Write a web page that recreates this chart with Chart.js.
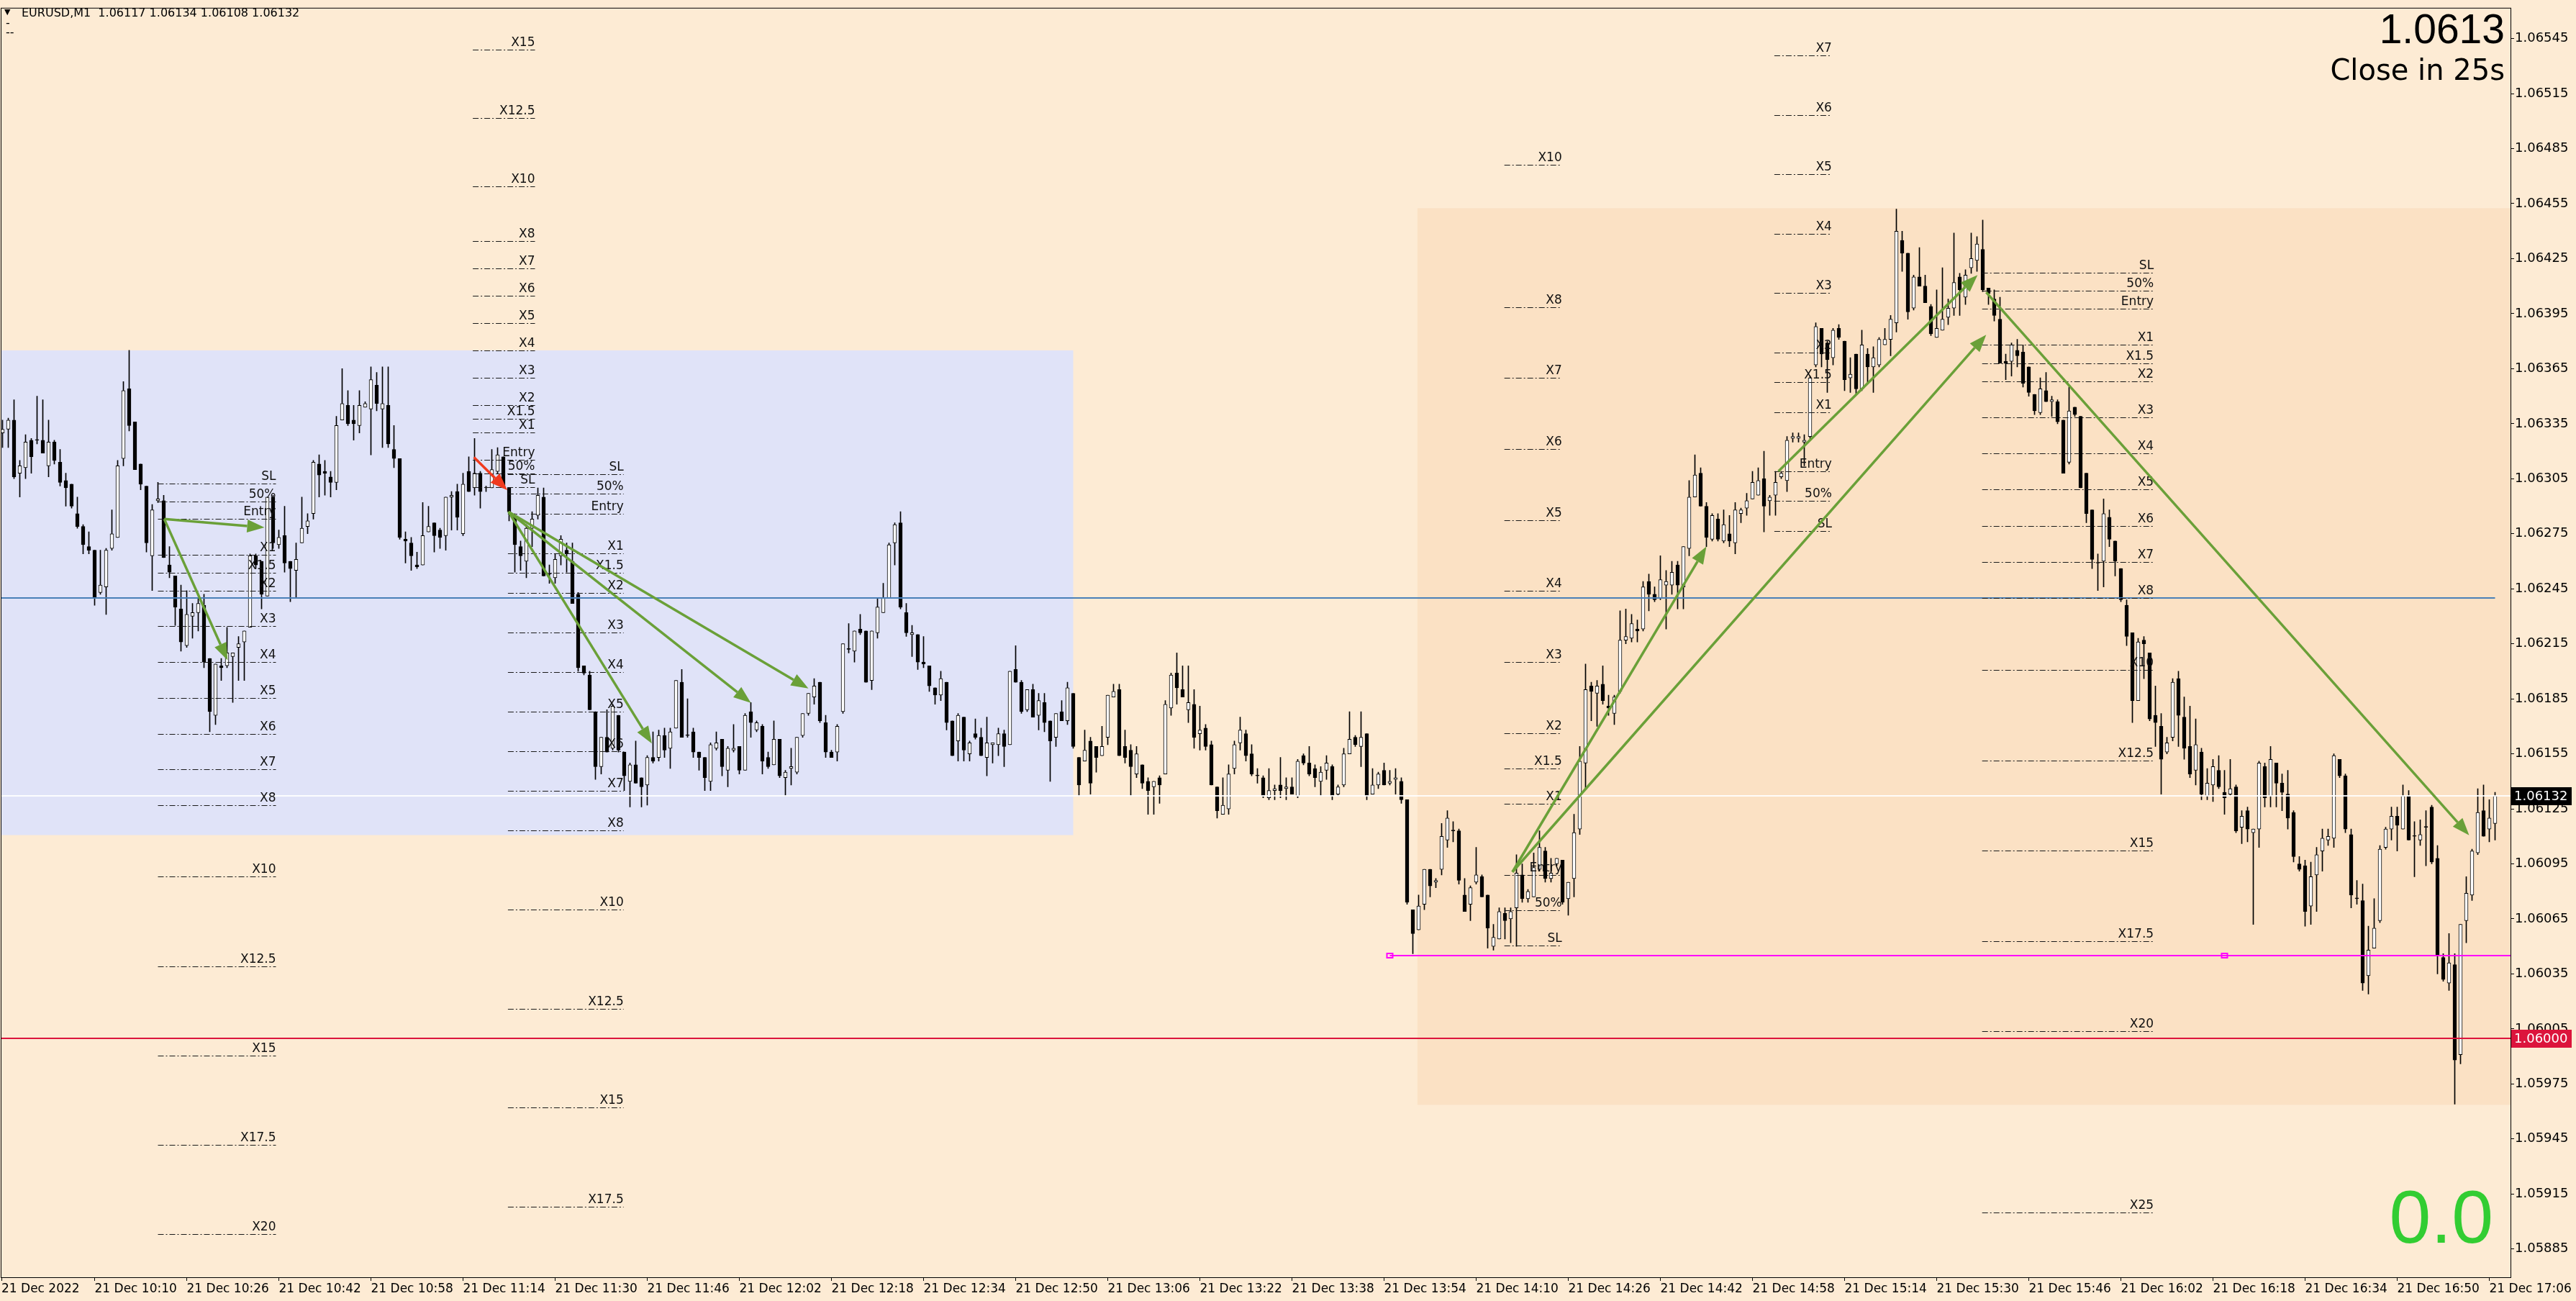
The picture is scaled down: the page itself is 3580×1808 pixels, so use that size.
<!DOCTYPE html>
<html>
<head>
<meta charset="utf-8">
<title>EURUSD,M1</title>
<script src="https://cdn.jsdelivr.net/npm/chart.js@4.4.1/dist/chart.umd.min.js"></script>
<style>
  html, body { margin: 0; padding: 0; background: #FDEBD4; overflow: hidden; }
  canvas { display: block; }
</style>
</head>
<body>
<canvas id="priceChart" width="3580" height="1808"></canvas>
<script>
// EURUSD M1, 21 Dec 2022 - one candle per minute from 09:54 to 17:07
// prices are kept in points (0.00001) above 1.00000
const openPts = [
  6330,6332,6337,6308,6311,6326,6326,6326,6312,6325,
  6314,6304,6302,6286,6279,6268,6266,6243,6246,6267,
  6273,6316,6354,6336,6313,6301,6263,6293,6293,6258,
  6252,6234,6214,6230,6232,6236,6207,6176,6203,6203,
  6208,6213,6216,6224,6263,6260,6241,6295,6269,6274,
  6260,6255,6270,6279,6286,6313,6309,6306,6303,6337,
  6345,6337,6334,6344,6343,6356,6343,6345,6321,6316,
  6272,6270,6258,6258,6276,6281,6277,6274,6295,6298,
  6275,6309,6300,6308,6300,6300,6309,6317,6300,6285,
  6268,6260,6278,6285,6295,6253,6251,6263,6266,6260,
  6242,6203,6198,6178,6148,6164,6158,6176,6156,6140,
  6149,6142,6138,6153,6153,6165,6158,6169,6194,6165,
  6167,6156,6153,6140,6158,6163,6146,6157,6159,6146,
  6178,6168,6170,6153,6149,6163,6142,6147,6145,6165,
  6177,6186,6194,6172,6156,6156,6178,6212,6211,6223,
  6222,6195,6221,6232,6240,6270,6281,6232,6220,6220,
  6205,6203,6191,6187,6194,6173,6162,6175,6155,6166,
  6164,6153,6160,6160,6166,6160,6201,6194,6179,6190,
  6176,6183,6173,6164,6178,6173,6188,6153,6151,6162,
  6159,6154,6164,6186,6190,6159,6157,6144,6149,6140,
  6137,6142,6144,6180,6199,6190,6179,6182,6166,6169,
  6160,6137,6122,6125,6147,6161,6166,6155,6143,6142,
  6131,6135,6138,6136,6137,6132,6154,6150,6147,6140,
  6146,6148,6133,6138,6155,6164,6159,6166,6133,6138,
  6146,6139,6141,6140,6130,6070,6059,6073,6092,6085,
  6092,6108,6113,6113,6078,6073,6085,6088,6078,6050,
  6054,6068,6065,6071,6089,6076,6077,6092,6102,6087,
  6095,6097,6076,6087,6114,6150,6192,6188,6193,6181,
  6177,6189,6217,6218,6223,6223,6249,6242,6240,6247,
  6247,6258,6246,6267,6295,6308,6290,6272,6283,6271,
  6275,6270,6286,6289,6294,6296,6305,6293,6296,6306,
  6304,6327,6327,6325,6328,6367,6387,6379,6371,6387,
  6380,6360,6373,6354,6373,6366,6367,6378,6381,6390,
  6435,6428,6398,6415,6410,6399,6382,6386,6393,6398,
  6415,6404,6420,6424,6430,6409,6403,6392,6369,6369,
  6375,6374,6366,6351,6341,6353,6347,6347,6337,6314,
  6344,6339,6308,6288,6259,6260,6284,6271,6256,6236,
  6221,6184,6217,6210,6176,6170,6156,6164,6196,6175,
  6159,6146,6156,6132,6138,6146,6134,6133,6137,6115,
  6124,6112,6114,6148,6132,6150,6139,6133,6123,6095,
  6094,6072,6089,6102,6108,6109,6152,6143,6111,6076,
  6075,6034,6049,6064,6104,6114,6121,6114,6132,6110,
  6108,6115,6126,6098,6044,6030,6040,5991,6064,6078,
  6101,6124,6114,6117
];
const highPts = [
  6337,6338,6348,6315,6329,6327,6350,6348,6337,6326,
  6321,6308,6302,6295,6280,6276,6266,6266,6267,6288,
  6315,6358,6375,6336,6313,6301,6291,6303,6296,6268,
  6252,6247,6244,6237,6240,6242,6207,6204,6207,6224,
  6210,6219,6222,6264,6264,6260,6295,6296,6277,6290,
  6260,6270,6295,6286,6315,6318,6315,6309,6339,6365,
  6353,6345,6353,6347,6366,6363,6366,6366,6334,6316,
  6276,6273,6265,6292,6290,6281,6278,6295,6298,6302,
  6308,6317,6327,6309,6301,6321,6322,6317,6300,6286,
  6271,6280,6287,6300,6300,6258,6264,6274,6270,6270,
  6243,6203,6200,6178,6164,6179,6182,6176,6156,6150,
  6162,6142,6154,6167,6168,6169,6169,6195,6201,6185,
  6169,6156,6153,6161,6167,6163,6159,6171,6159,6177,
  6183,6173,6171,6156,6173,6163,6146,6158,6164,6177,
  6188,6196,6194,6176,6157,6171,6215,6226,6222,6231,
  6222,6222,6240,6248,6270,6281,6287,6237,6225,6220,
  6219,6203,6191,6200,6194,6173,6177,6175,6162,6174,
  6169,6175,6161,6169,6168,6200,6214,6195,6190,6193,
  6188,6188,6173,6177,6184,6194,6188,6153,6168,6164,
  6159,6170,6187,6193,6193,6168,6160,6159,6149,6142,
  6140,6143,6184,6199,6210,6203,6203,6190,6181,6171,
  6162,6137,6142,6149,6162,6175,6168,6160,6147,6143,
  6147,6138,6153,6142,6142,6152,6155,6159,6149,6148,
  6154,6149,6138,6158,6178,6165,6178,6166,6147,6145,
  6150,6146,6147,6142,6130,6070,6078,6092,6092,6087,
  6117,6124,6118,6114,6087,6083,6104,6089,6078,6062,
  6071,6071,6071,6100,6095,6081,6101,6113,6104,6098,
  6098,6097,6085,6122,6159,6204,6194,6195,6203,6187,
  6187,6233,6234,6231,6228,6249,6253,6246,6263,6255,
  6260,6260,6268,6304,6318,6311,6292,6286,6286,6288,
  6285,6292,6289,6297,6309,6311,6320,6296,6309,6309,
  6328,6330,6330,6329,6361,6390,6387,6380,6387,6389,
  6380,6371,6373,6386,6376,6377,6382,6387,6394,6452,
  6440,6428,6416,6431,6416,6400,6408,6420,6403,6439,
  6417,6419,6439,6437,6446,6409,6408,6404,6373,6379,
  6381,6378,6366,6351,6360,6363,6350,6348,6337,6355,
  6344,6339,6308,6288,6264,6294,6288,6271,6256,6239,
  6221,6218,6219,6210,6192,6177,6164,6196,6200,6186,
  6181,6174,6158,6147,6152,6154,6146,6152,6138,6124,
  6126,6114,6151,6150,6159,6150,6144,6146,6124,6099,
  6097,6096,6104,6114,6114,6155,6152,6144,6114,6086,
  6084,6061,6076,6105,6115,6126,6126,6138,6135,6118,
  6119,6124,6127,6105,6046,6057,6046,6062,6088,6103,
  6136,6138,6130,6134
];
const lowPts = [
  6322,6322,6305,6295,6305,6308,6324,6319,6306,6313,
  6301,6290,6289,6278,6264,6264,6236,6242,6231,6266,
  6273,6312,6331,6310,6299,6265,6244,6292,6262,6251,
  6225,6211,6213,6218,6222,6202,6167,6171,6195,6202,
  6183,6195,6195,6224,6256,6234,6241,6267,6267,6254,
  6238,6240,6270,6275,6283,6295,6296,6295,6299,6337,
  6334,6326,6330,6344,6318,6342,6322,6322,6311,6272,
  6259,6255,6256,6258,6276,6265,6267,6266,6277,6277,
  6274,6298,6296,6289,6298,6300,6308,6300,6282,6254,
  6255,6251,6268,6283,6252,6248,6248,6258,6254,6237,
  6200,6198,6179,6141,6144,6156,6157,6156,6135,6126,
  6139,6126,6127,6150,6151,6153,6147,6169,6164,6164,
  6153,6146,6135,6135,6157,6143,6137,6156,6144,6146,
  6164,6167,6144,6147,6149,6142,6132,6138,6144,6164,
  6176,6182,6172,6153,6153,6151,6177,6210,6205,6220,
  6194,6190,6218,6232,6240,6258,6234,6219,6208,6201,
  6202,6189,6182,6184,6168,6154,6151,6151,6151,6163,
  6154,6143,6150,6154,6148,6160,6194,6177,6178,6175,
  6168,6167,6140,6159,6173,6171,6158,6132,6151,6133,
  6145,6154,6160,6186,6154,6150,6132,6142,6136,6122,
  6122,6128,6144,6176,6182,6186,6172,6158,6157,6157,
  6138,6120,6122,6122,6144,6157,6151,6143,6139,6131,
  6130,6130,6131,6130,6133,6131,6149,6143,6137,6132,
  6141,6130,6132,6137,6155,6159,6148,6130,6133,6136,
  6138,6138,6133,6128,6073,6046,6059,6070,6077,6082,
  6089,6104,6107,6084,6069,6064,6084,6077,6049,6048,
  6054,6054,6052,6050,6074,6074,6077,6091,6085,6085,
  6094,6073,6067,6077,6111,6136,6173,6170,6182,6176,
  6171,6188,6215,6216,6216,6222,6233,6238,6239,6223,
  6242,6234,6234,6263,6295,6290,6268,6271,6271,6270,
  6268,6264,6281,6285,6294,6296,6276,6285,6285,6305,
  6298,6325,6325,6312,6327,6366,6366,6352,6367,6381,
  6353,6352,6351,6353,6357,6352,6366,6378,6372,6385,
  6418,6392,6397,6410,6401,6383,6382,6386,6389,6394,
  6394,6400,6417,6418,6407,6400,6391,6368,6359,6361,
  6366,6355,6350,6340,6340,6347,6339,6335,6308,6313,
  6339,6300,6281,6256,6244,6246,6268,6252,6238,6214,
  6172,6184,6196,6173,6159,6133,6155,6162,6159,6152,
  6142,6138,6130,6130,6129,6136,6122,6132,6112,6106,
  6107,6062,6104,6126,6126,6126,6124,6114,6096,6091,
  6061,6062,6069,6091,6105,6104,6142,6112,6071,6073,
  6026,6024,6049,6063,6103,6108,6102,6114,6108,6088,
  6105,6094,6095,6035,6031,6026,5964,5986,6052,6075,
  6100,6110,6107,6108
];
const closePts = [
  6332,6337,6306,6312,6325,6317,6326,6319,6325,6315,
  6303,6300,6290,6279,6269,6266,6240,6247,6266,6275,
  6312,6353,6334,6310,6302,6270,6288,6294,6262,6254,
  6235,6216,6231,6232,6237,6205,6178,6204,6202,6210,
  6210,6215,6222,6263,6258,6242,6295,6270,6273,6259,
  6256,6261,6278,6282,6314,6307,6308,6303,6334,6346,
  6335,6335,6345,6346,6359,6346,6346,6324,6316,6273,
  6271,6263,6257,6274,6279,6274,6273,6295,6296,6284,
  6302,6298,6308,6298,6300,6310,6318,6300,6287,6269,
  6263,6278,6283,6296,6252,6253,6261,6272,6264,6237,
  6202,6199,6179,6148,6164,6156,6181,6157,6143,6149,
  6139,6137,6153,6151,6165,6157,6167,6195,6164,6165,
  6156,6153,6142,6160,6161,6148,6158,6158,6146,6176,
  6172,6172,6151,6148,6163,6143,6145,6148,6164,6177,
  6188,6192,6173,6156,6153,6170,6215,6212,6222,6221,
  6194,6222,6235,6240,6269,6280,6235,6221,6221,6205,
  6204,6192,6187,6196,6172,6154,6176,6157,6161,6164,
  6154,6161,6161,6166,6159,6200,6194,6178,6190,6175,
  6184,6172,6162,6177,6173,6191,6159,6138,6157,6139,
  6153,6159,6187,6189,6154,6153,6148,6155,6139,6135,
  6140,6138,6182,6198,6191,6186,6183,6164,6168,6159,
  6138,6124,6127,6144,6160,6168,6154,6144,6143,6132,
  6135,6136,6135,6137,6133,6151,6150,6144,6142,6145,
  6150,6132,6137,6155,6163,6160,6164,6132,6138,6144,
  6138,6140,6142,6130,6074,6057,6072,6092,6083,6086,
  6110,6120,6113,6086,6069,6082,6089,6077,6060,6055,
  6069,6064,6069,6090,6076,6080,6093,6104,6087,6090,
  6098,6074,6085,6112,6151,6190,6189,6192,6184,6180,
  6186,6217,6219,6226,6222,6246,6242,6239,6250,6249,
  6254,6247,6268,6295,6307,6290,6273,6285,6272,6280,
  6271,6288,6288,6293,6303,6304,6290,6295,6303,6308,
  6326,6328,6328,6326,6360,6388,6373,6370,6386,6382,
  6359,6362,6354,6378,6366,6371,6381,6381,6392,6440,
  6428,6396,6415,6410,6401,6384,6387,6392,6398,6412,
  6408,6416,6425,6433,6408,6406,6394,6368,6368,6378,
  6372,6357,6352,6342,6354,6347,6348,6336,6308,6342,
  6340,6300,6286,6261,6259,6286,6272,6260,6239,6219,
  6184,6216,6215,6174,6172,6152,6161,6194,6176,6158,
  6144,6160,6133,6139,6148,6137,6131,6136,6113,6121,
  6114,6114,6150,6131,6152,6139,6134,6120,6099,6092,
  6069,6088,6100,6109,6110,6154,6143,6114,6078,6076,
  6030,6048,6060,6103,6114,6121,6116,6132,6108,6110,
  6111,6115,6096,6045,6032,6041,5988,6062,6079,6102,
  6123,6110,6120,6132
];

// time axis: label text and the candle index it sits on (the first one is the left edge)
const xTickLabels = ['21 Dec 2022', '21 Dec 10:10', '21 Dec 10:26', '21 Dec 10:42', '21 Dec 10:58',
  '21 Dec 11:14', '21 Dec 11:30', '21 Dec 11:46', '21 Dec 12:02', '21 Dec 12:18', '21 Dec 12:34',
  '21 Dec 12:50', '21 Dec 13:06', '21 Dec 13:22', '21 Dec 13:38', '21 Dec 13:54', '21 Dec 14:10',
  '21 Dec 14:26', '21 Dec 14:42', '21 Dec 14:58', '21 Dec 15:14', '21 Dec 15:30', '21 Dec 15:46',
  '21 Dec 16:02', '21 Dec 16:18', '21 Dec 16:34', '21 Dec 16:50', '21 Dec 17:06'];
const xTickIndex = [-0.1875, 16, 32, 48, 64, 80, 96, 112, 128, 144, 160, 176, 192, 208, 224,
  240, 256, 272, 288, 304, 320, 336, 352, 368, 384, 400, 416, 432];

// price axis ticks (points)
const yTickValues = [5885, 5915, 5945, 5975, 6005, 6035, 6065, 6095, 6125, 6155, 6185, 6215,
  6245, 6275, 6305, 6335, 6365, 6395, 6425, 6455, 6485, 6515, 6545];

// visible window
const xMin = -0.1875, xMax = 435.6875;
const yMin = 5869.6, yMax = 6561.4;

// horizontal levels (points)
const bidLevel = 6132;
const blueLevel = 6240;
const redLevel = 6000;
const magentaLevel = 6045;
const magentaAnchors = [241, 386];

// shaded zones: first candle, last candle, low, high
const lavenderZone = [-1, 186, 6110.7, 6375];
const orangeZone = [245.8, 440, 5963.6, 6452.5];

// target ladders (risk multiples)
const fibLabels = ['SL', '50%', 'Entry', 'X1', 'X1.5', 'X2', 'X3', 'X4', 'X5', 'X6', 'X7', 'X8',
  'X10', 'X12.5', 'X15', 'X17.5', 'X20', 'X25'];
const fibMult = [-1, -0.5, 0, 1, 1.5, 2, 3, 4, 5, 6, 7, 8, 10, 12.5, 15, 17.5, 20, 25];
const ladderStart = [27, 81.7, 87.8, 260.9, 307.8, 343.9];
const ladderEnd = [47.5, 92.5, 107.9, 270.9, 317.8, 373.7];
const ladderEntry = [6283, 6315.5, 6286, 6089, 6309, 6397.6];
const ladderRisk = [19.5, 14.9, 21.6, 38.7, 32.4, 19.7];
const ladderDir = [-1, 1, -1, 1, 1, -1];
const ladderLevels = [17, 15, 16, 13, 11, 18];

// arrows: [candle, price] from -> to
const arrowFrom = [[28.1, 6283], [28.1, 6283], [87.9, 6287], [87.9, 6287], [87.9, 6287],
  [262.3, 6090.6], [262.3, 6090.6], [308.5, 6309], [344.6, 6406.7], [81.9, 6316.7]];
const arrowTo = [[45.5, 6278.4], [39.1, 6206], [112.8, 6160.6], [130, 6182.8], [140, 6190.6],
  [296, 6268], [344.6, 6383.5], [343.1, 6416.1], [428.5, 6110.6], [87.7, 6298.7]];
const arrowIsRed = [false, false, false, false, false, false, false, false, false, true];

const BG = '#FDEBD4';
const GREEN = '#6AA038';
const fmt5 = v => (1 + v / 100000).toFixed(5);
const last = closePts.length - 1;

function drawArrow(ctx, x0, y0, x1, y1, color) {
    const ang = Math.atan2(y1 - y0, x1 - x0);
    const len = 24, half = 9;
    const bx = x1 - len * Math.cos(ang), by = y1 - len * Math.sin(ang);
    ctx.strokeStyle = color;
    ctx.lineWidth = 3.5;
    ctx.beginPath();
    ctx.moveTo(x0, y0);
    ctx.lineTo(bx, by);
    ctx.stroke();
    ctx.fillStyle = color;
    ctx.beginPath();
    ctx.moveTo(x1, y1);
    ctx.lineTo(bx - half * Math.sin(ang), by + half * Math.cos(ang));
    ctx.lineTo(bx + half * Math.sin(ang), by - half * Math.cos(ang));
    ctx.closePath();
    ctx.fill();
}

// background and shaded zones
const backdrop = {
    id: 'backdrop',
    beforeDraw(chart) {
        const { ctx, chartArea: a, scales: { x, y } } = chart;
        ctx.save();
        ctx.fillStyle = BG;
        ctx.fillRect(0, 0, chart.width, chart.height);
        ctx.beginPath();
        ctx.rect(a.left, a.top, a.right - a.left, a.bottom - a.top);
        ctx.clip();
        [[lavenderZone, '#E0E3F8'], [orangeZone, '#FBE1C4']].forEach(([z, col]) => {
            const left = x.getPixelForValue(z[0]), right = x.getPixelForValue(z[1]);
            const top = y.getPixelForValue(z[3]), bottom = y.getPixelForValue(z[2]);
            ctx.fillStyle = col;
            ctx.fillRect(left, top, right - left, bottom - top);
        });
        ctx.restore();
    }
};

// levels, ladders and arrows on top of the candles
const overlays = {
    id: 'overlays',
    afterDatasetsDraw(chart) {
        const { ctx, chartArea: a, scales: { x, y } } = chart;
        ctx.save();
        ctx.beginPath();
        ctx.rect(a.left, a.top, a.right - a.left, a.bottom - a.top);
        ctx.clip();

        const hline = (v, x0, x1, color, w) => {
            const yy = Math.round(y.getPixelForValue(v));
            ctx.strokeStyle = color;
            ctx.lineWidth = w;
            ctx.beginPath();
            ctx.moveTo(x0, yy);
            ctx.lineTo(x1, yy);
            ctx.stroke();
        };
        hline(bidLevel, a.left, a.right, 'rgba(255,255,255,0.9)', 2);
        hline(blueLevel, a.left, x.getPixelForValue(last), '#4A80B8', 2);
        hline(redLevel, a.left, a.right, '#DC143C', 2);
        hline(magentaLevel, x.getPixelForValue(magentaAnchors[0]), a.right, '#FF00FF', 2);
        ctx.strokeStyle = '#FF00FF';
        ctx.lineWidth = 2;
        magentaAnchors.forEach(i => {
            const cx = x.getPixelForValue(i), cy = Math.round(y.getPixelForValue(magentaLevel));
            ctx.strokeRect(cx - 4, cy - 3, 8, 6);
        });

        // target ladders
        ctx.font = '17px "DejaVu Sans"';
        ctx.textAlign = 'right';
        ctx.textBaseline = 'bottom';
        ladderStart.forEach((s, k) => {
            const x0 = x.getPixelForValue(s), x1 = x.getPixelForValue(ladderEnd[k]);
            for (let j = 0; j < ladderLevels[k]; j++) {
                const v = ladderEntry[k] + ladderDir[k] * fibMult[j] * ladderRisk[k];
                const yy = Math.round(y.getPixelForValue(v)) + 0.5;
                ctx.setLineDash([8, 3, 2, 3]);
                ctx.strokeStyle = '#1a1a1a';
                ctx.lineWidth = 1;
                ctx.beginPath();
                ctx.moveTo(x0, yy);
                ctx.lineTo(x1, yy);
                ctx.stroke();
                ctx.setLineDash([]);
                ctx.fillStyle = '#111';
                ctx.fillText(fibLabels[j], x1, yy - 1);
            }
        });

        // arrows
        arrowFrom.forEach((p, k) => {
            const q = arrowTo[k];
            drawArrow(ctx,
                x.getPixelForValue(p[0]), y.getPixelForValue(p[1]),
                x.getPixelForValue(q[0]), y.getPixelForValue(q[1]),
                arrowIsRed[k] ? '#F03A1E' : GREEN);
        });
        ctx.restore();
    }
};

// frame, header texts and price tags
const annotations = {
    id: 'annotations',
    afterDraw(chart) {
        const { ctx, chartArea: a, scales: { y } } = chart;
        ctx.save();
        ctx.strokeStyle = '#000';
        ctx.lineWidth = 1;
        ctx.strokeRect(a.left - 0.5, a.top - 0.5, a.right - a.left + 1, a.bottom - a.top + 1);

        ctx.fillStyle = '#000';
        ctx.textAlign = 'left';
        ctx.textBaseline = 'alphabetic';
        ctx.font = '11px "DejaVu Sans"';
        ctx.fillText('▼', 6, 20);
        ctx.font = '16px "DejaVu Sans"';
        ctx.fillText('EURUSD,M1  ' + [openPts[last], highPts[last], lowPts[last], closePts[last]].map(fmt5).join(' '), 30, 23);
        ctx.fillText('-', 8, 37);
        ctx.fillText('--', 8, 50);

        ctx.textAlign = 'right';
        ctx.font = '57px "Liberation Sans"';
        ctx.fillText((1 + closePts[last] / 100000).toFixed(4), 3481, 60);
        ctx.font = '40px "DejaVu Sans"';
        ctx.fillText('Close in 25s', 3481, 111);
        ctx.fillStyle = '#32CD32';
        ctx.font = '104px "Liberation Sans"';
        ctx.fillText('0.0', 3465, 1727);

        const priceTag = (v, bg) => {
            const yy = Math.round(y.getPixelForValue(v));
            ctx.fillStyle = bg;
            ctx.fillRect(a.right + 1, yy - 12, 84, 25);
            ctx.fillStyle = '#fff';
            ctx.font = '18px "DejaVu Sans"';
            ctx.textAlign = 'left';
            ctx.textBaseline = 'middle';
            ctx.fillText(fmt5(v), a.right + 5, yy + 1);
        };
        priceTag(closePts[last], '#000');
        priceTag(redLevel, '#DC143C');
        ctx.restore();
    }
};

const bodyFill = closePts.map((c, i) => c > openPts[i] ? '#ffffff' : '#000000');

new Chart(document.getElementById('priceChart'), {
    type: 'bar',
    data: {
        datasets: [
            {
                label: 'wick',
                data: lowPts.map((l, i) => ({ x: i, y: [l, highPts[i]] })),
                backgroundColor: '#000',
                barThickness: 1,
                grouped: false,
                order: 2
            },
            {
                label: 'body',
                data: openPts.map((o, i) => ({ x: i, y: [o, closePts[i]] })),
                backgroundColor: bodyFill,
                borderColor: '#000',
                borderWidth: 1,
                borderSkipped: false,
                barThickness: 5,
                minBarLength: 1,
                grouped: false,
                order: 1
            }
        ]
    },
    options: {
        responsive: false,
        animation: false,
        devicePixelRatio: 1,
        events: [],
        layout: { padding: { left: 2, top: 2, right: 0, bottom: 0 } },
        plugins: { legend: { display: false }, tooltip: { enabled: false } },
        scales: {
            x: {
                type: 'linear',
                min: xMin,
                max: xMax,
                bounds: 'data',
                offset: false,
                grid: { display: true, offset: false, drawOnChartArea: false, drawTicks: true, tickLength: 5, color: '#000' },
                border: { display: true, color: '#000', width: 1 },
                ticks: {
                    autoSkip: false,
                    maxRotation: 0,
                    minRotation: 0,
                    align: 'start',
                    padding: 1,
                    color: '#000',
                    font: { family: 'DejaVu Sans', size: 17 },
                    callback: (v, idx) => xTickLabels[idx]
                },
                afterBuildTicks: s => { s.ticks = xTickIndex.map(v => ({ value: v })); },
                afterFit: s => { s.height = 33; }
            },
            y: {
                type: 'linear',
                position: 'right',
                min: yMin,
                max: yMax,
                bounds: 'data',
                grid: { display: true, drawOnChartArea: false, drawTicks: true, tickLength: 5, color: '#000' },
                border: { display: true, color: '#000', width: 1 },
                ticks: {
                    autoSkip: false,
                    padding: 1,
                    color: '#000',
                    font: { family: 'DejaVu Sans', size: 18 },
                    callback: v => fmt5(v)
                },
                afterBuildTicks: s => { s.ticks = yTickValues.map(v => ({ value: v })); },
                afterFit: s => { s.width = 91; }
            }
        }
    },
    plugins: [backdrop, overlays, annotations]
});
</script>
</body>
</html>
